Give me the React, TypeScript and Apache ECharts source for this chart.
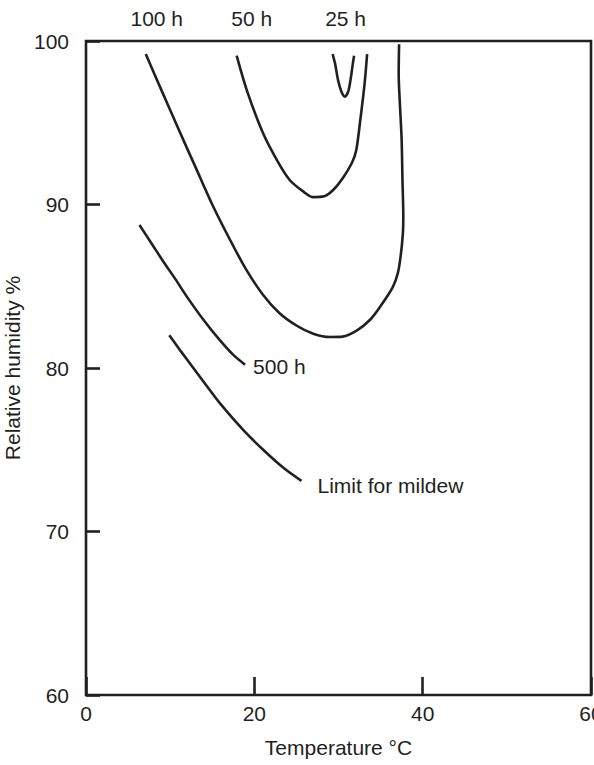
import React, { useEffect, useRef } from "react";
import * as echarts from "echarts";

// Axis ranges / ticks
const xRange = [0, 60];
const xStep = 20;
const yRange = [60, 100];
const yStep = 10;

// Curve data: [temperature °C, relative humidity %]
const curve100h: [number, number][] = [
  [7.1, 99.2], [9.0, 96.95], [11.0, 94.6], [13.0, 92.3], [15.0, 90.0], [17.0, 87.95],
  [19.0, 86.05], [21.0, 84.5], [23.0, 83.35], [25.0, 82.6], [27.0, 82.1], [29.0, 81.9],
  [30.5, 81.92], [32.2, 82.3], [33.75, 82.95], [34.95, 83.75], [36.45, 84.95], [37.05, 85.8],
  [37.4, 86.9], [37.65, 88.25], [37.7, 89.2], [37.6, 91.5], [37.5, 94.0], [37.3, 96.1],
  [37.15, 98.0], [37.2, 99.8],
];
const curve50h: [number, number][] = [
  [17.9, 99.1], [19.1, 97.0], [21.0, 94.4], [22.7, 92.7], [24.2, 91.5], [25.8, 90.8],
  [27.0, 90.45], [28.3, 90.5], [29.4, 90.9], [30.5, 91.6], [31.6, 92.55], [32.1, 93.3],
  [32.55, 95.0], [33.1, 97.4], [33.4, 99.2],
];
const curve25h: [number, number][] = [
  [29.3, 99.2], [29.6, 98.6], [29.95, 97.6], [30.35, 96.9], [30.75, 96.6], [31.15, 96.9],
  [31.45, 97.7], [31.7, 98.6], [31.85, 99.1],
];
const curve500h: [number, number][] = [
  [6.35, 88.75], [7.75, 87.65], [9.2, 86.5], [10.6, 85.45], [12.0, 84.35], [13.95, 82.95],
  [15.9, 81.7], [17.5, 80.8], [18.9, 80.2],
];
const curveMildew: [number, number][] = [
  [9.9, 82.0], [11.3, 81.0], [12.75, 80.0], [14.35, 78.9], [15.9, 77.85], [18.7, 76.2],
  [21.05, 75.0], [23.45, 73.9], [25.6, 73.1],
];

const topLabelNames = ["100 h", "50 h", "25 h"];
const endLabelNames = ["500 h", "Limit for mildew"];
const xAxisName = "Temperature °C";
const yAxisName = "Relative humidity %";

const INK = "#231f20";
const FONT = "'Liberation Sans', Arial, Helvetica, sans-serif";

export default function App() {
  const ref = useRef<HTMLDivElement>(null);

  useEffect(() => {
    if (!ref.current) return;
    const chart = echarts.init(ref.current, undefined, { renderer: "svg" });

    const labelText = { color: INK, fontSize: 21, fontFamily: FONT };

    const withTopLabel = (pts: [number, number][], name: string, offset: number[]) =>
      pts.map((p, i) =>
        i === 0
          ? { value: p, label: { show: true, formatter: name, position: "inside", offset, ...labelText } }
          : { value: p }
      );
    const withEndLabel = (pts: [number, number][], name: string, distance: number, offset: number[]) =>
      pts.map((p, i) =>
        i === pts.length - 1
          ? { value: p, label: { show: true, formatter: name, position: "right", distance, offset, ...labelText } }
          : { value: p }
      );

    const lineBase = {
      type: "line" as const,
      smooth: 0.3,
      showSymbol: true,
      symbol: "circle",
      symbolSize: 0,
      clip: false,
      silent: true,
      lineStyle: { color: INK, width: 2.6 },
      itemStyle: { color: INK },
      emphasis: { disabled: true },
    };

    chart.setOption({
      animation: false,
      textStyle: { fontFamily: FONT },
      grid: {
        left: 86,
        right: 3,
        top: 41,
        bottom: 70,
        containLabel: false,
        outerBoundsMode: "none",
        show: true,
        borderColor: INK,
        borderWidth: 2.6,
        backgroundColor: "transparent",
      },
      xAxis: {
        type: "value",
        min: xRange[0],
        max: xRange[1],
        interval: xStep,
        name: xAxisName,
        nameLocation: "middle",
        nameGap: 42,
        nameTextStyle: { ...labelText },
        axisLine: { show: false },
        axisTick: { show: true, inside: true, length: 18, lineStyle: { color: INK, width: 2.6 } },
        axisLabel: { ...labelText, margin: 8 },
        splitLine: { show: false },
      },
      yAxis: {
        type: "value",
        min: yRange[0],
        max: yRange[1],
        interval: yStep,
        name: yAxisName,
        nameLocation: "middle",
        nameRotate: 90,
        nameGap: 57,
        nameTextStyle: { ...labelText },
        axisLine: { show: false },
        axisTick: { show: true, inside: true, length: 14, lineStyle: { color: INK, width: 2.6 } },
        axisLabel: { ...labelText, margin: 17 },
        splitLine: { show: false },
      },
      series: [
        { ...lineBase, name: topLabelNames[0], data: withTopLabel(curve100h, topLabelNames[0], [11, -36]) },
        { ...lineBase, name: topLabelNames[1], data: withTopLabel(curve50h, topLabelNames[1], [15, -37]) },
        { ...lineBase, name: topLabelNames[2], data: withTopLabel(curve25h, topLabelNames[2], [13, -36]) },
        { ...lineBase, name: endLabelNames[0], data: withEndLabel(curve500h, endLabelNames[0], 8, [0, 2]) },
        { ...lineBase, name: endLabelNames[1], data: withEndLabel(curveMildew, endLabelNames[1], 16, [0, 5]) },
      ],
    });

    return () => chart.dispose();
  }, []);

  return (
    <div
      ref={ref}
      style={{ position: "fixed", left: 0, top: 0, width: 594, height: 765, background: "#ffffff" }}
    />
  );
}
